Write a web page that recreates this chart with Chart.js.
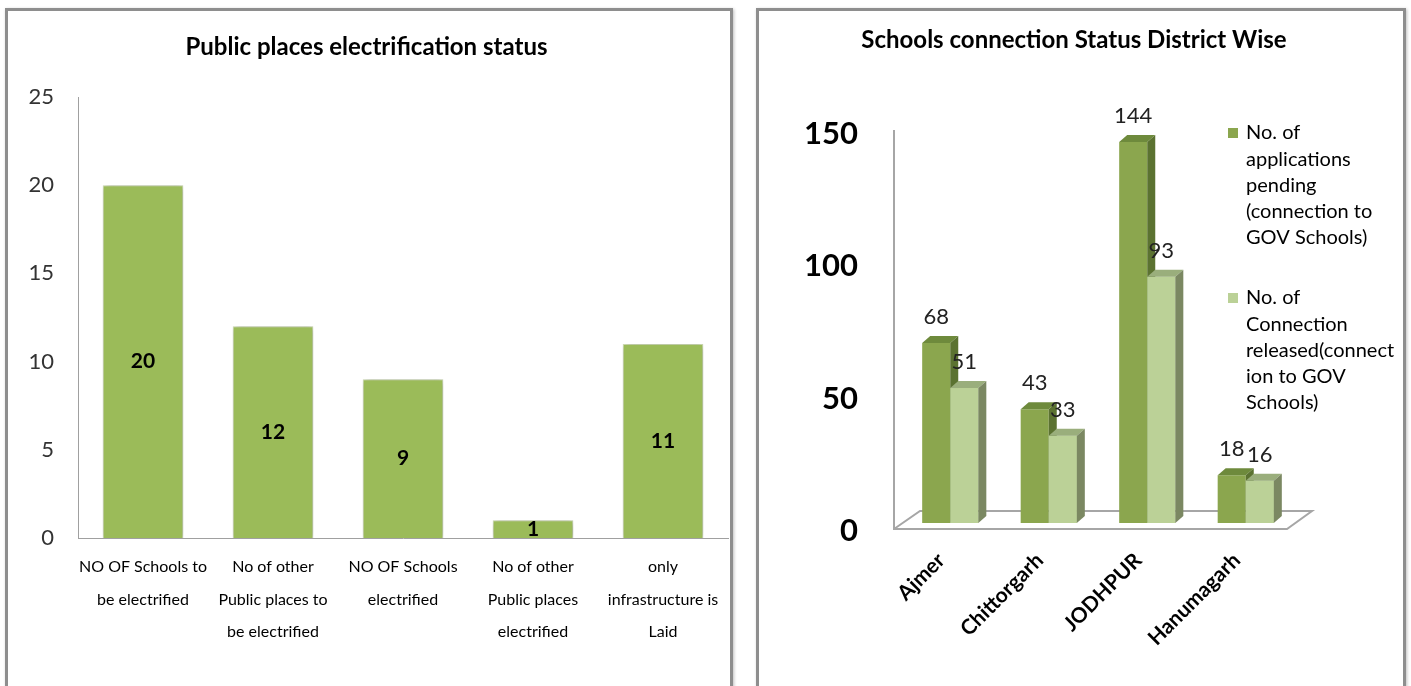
<!DOCTYPE html>
<html>
<head>
<meta charset="utf-8">
<script src="https://cdn.jsdelivr.net/npm/chart.js@4.4.1/dist/chart.umd.min.js"></script>
<style>
  body { margin: 0; background: #fff; width: 1411px; height: 686px; overflow: hidden; position: relative; }
  .panel { position: absolute; top: 8px; height: 700px; border: 3px solid #8e8e8e; box-sizing: border-box; box-shadow: 1px 1px 3px rgba(0,0,0,0.25); }
  #leftPanel { left: 5px; width: 728px; }
  #rightPanel { left: 756px; width: 650px; }
  canvas { position: absolute; }
  #publicChart { left: 5px; top: 9px; }
  #schoolChart { left: 757px; top: 9px; }
</style>
</head>
<body>
<div class="panel" id="leftPanel"></div>
<div class="panel" id="rightPanel"></div>
<canvas id="publicChart" width="733" height="677"></canvas>
<canvas id="schoolChart" width="650" height="677"></canvas>
<script>
// left chart
const publicLabels = [
  ['NO OF Schools to', 'be electrified'],
  ['No of other', 'Public places to', 'be electrified'],
  ['NO OF Schools', 'electrified'],
  ['No of other', 'Public places', 'electrified'],
  ['only', 'infrastructure is', 'Laid']
];
const publicValues = [20, 12, 9, 1, 11];

// right chart
const districts = ['Ajmer', 'Chittorgarh', 'JODHPUR', 'Hanumagarh'];
const pendingValues = [68, 43, 144, 18];
const releasedValues = [51, 33, 93, 16];
const pendingName = ['No. of', 'applications', 'pending', '(connection to', 'GOV Schools)'];
const releasedName = ['No. of', 'Connection', 'released(connect', 'ion to GOV', 'Schools)'];

Chart.defaults.font.family = 'Lato, "Open Sans", sans-serif';
Chart.defaults.color = '#000';

// numbers on the bars
const barValues = {
  id: 'barValues',
  afterDatasetsDraw(chart, args, opts) {
    const ctx = chart.ctx;
    ctx.save();
    ctx.font = opts.font;
    ctx.fillStyle = opts.color;
    ctx.textAlign = 'center';
    ctx.textBaseline = 'middle';
    chart.data.datasets.forEach((ds, i) => {
      chart.getDatasetMeta(i).data.forEach((bar, j) => {
        const y = opts.inside ? (bar.y + bar.base) / 2 : bar.y - opts.offset;
        ctx.fillText(ds.data[j], bar.x, y);
      });
    });
    ctx.restore();
  }
};

// soft shadow like the excel bars
const barShadow = {
  id: 'barShadow',
  beforeDatasetsDraw(chart) {
    const ctx = chart.ctx;
    ctx.save();
    ctx.shadowColor = 'rgba(0,0,0,0.35)';
    ctx.shadowBlur = 7;
    ctx.shadowOffsetX = 1;
    ctx.shadowOffsetY = 1;
  },
  afterDatasetsDraw(chart) {
    chart.ctx.restore();
  }
};

// fake 3d: floor, top and side faces
const bars3d = {
  id: 'bars3d',
  beforeDatasetsDraw(chart) {
    const { ctx, chartArea: a, scales: { y } } = chart;
    const base = y.getPixelForValue(0);
    ctx.save();
    ctx.strokeStyle = '#a6a6a6';
    ctx.lineWidth = 2;
    ctx.beginPath();
    ctx.moveTo(a.left - 7, y.getPixelForValue(y.max) + 4);
    ctx.lineTo(a.left - 7, base + 6);
    ctx.lineTo(a.right - 8, base + 6);
    ctx.lineTo(a.right + 17, base - 12);
    ctx.lineTo(a.left + 19, base - 12);
    ctx.lineTo(a.left - 7, base + 6);
    ctx.stroke();
    ctx.restore();
  },
  afterDatasetsDraw(chart) {
    const ctx = chart.ctx;
    const dx = 8, dy = -7;
    const poly = (pts, color) => {
      ctx.fillStyle = color;
      ctx.beginPath();
      pts.forEach((p, k) => k ? ctx.lineTo(p[0], p[1]) : ctx.moveTo(p[0], p[1]));
      ctx.closePath();
      ctx.fill();
    };
    ctx.save();
    chart.data.labels.forEach((l, j) => {
      chart.data.datasets.forEach((ds, i) => {
        const bar = chart.getDatasetMeta(i).data[j];
        const L = bar.x - bar.width / 2, R = bar.x + bar.width / 2, T = bar.y, B = bar.base;
        if (i > 0) {
          ctx.fillStyle = ds.backgroundColor;
          ctx.fillRect(L, T, R - L, B - T);
        }
        poly([[L, T], [L + dx, T + dy], [R + dx, T + dy], [R, T]], ds.topColor);
        poly([[R, T], [R + dx, T + dy], [R + dx, B + dy], [R, B]], ds.sideColor);
      });
    });
    ctx.restore();
  }
};

// legend with wrapped lines at the right
const sideLegend = {
  id: 'sideLegend',
  afterDraw(chart, args, opts) {
    const ctx = chart.ctx;
    ctx.save();
    ctx.font = opts.font;
    ctx.textBaseline = 'middle';
    ctx.textAlign = 'left';
    let y = opts.top;
    chart.data.datasets.forEach(ds => {
      ctx.fillStyle = ds.backgroundColor;
      ctx.fillRect(opts.left, y - 5, 10, 10);
      ctx.fillStyle = '#000';
      ds.legendLines.forEach((line, k) => ctx.fillText(line, opts.left + 18, y + k * opts.lineHeight));
      y += ds.legendLines.length * opts.lineHeight + opts.gap;
    });
    ctx.restore();
  }
};

new Chart(document.getElementById('publicChart'), {
  type: 'bar',
  data: {
    labels: publicLabels,
    datasets: [{
      data: publicValues,
      backgroundColor: '#9BBB59',
      borderColor: '#d3e0b8',
      borderWidth: 1,
      categoryPercentage: 1,
      barPercentage: 0.62
    }]
  },
  options: {
    responsive: false,
    animation: false,
    layout: { padding: { right: 10 } },
    plugins: {
      legend: { display: false },
      tooltip: { enabled: false },
      title: {
        display: true,
        text: 'Public places electrification status',
        color: '#000',
        font: { size: 24, weight: 'bold' },
        padding: { top: 23.6, bottom: 35.6 }
      },
      barValues: { font: 'bold 21px Lato', color: '#000', inside: true }
    },
    scales: {
      x: {
        grid: { display: false, drawTicks: false },
        border: { color: '#a0a0a0' },
        ticks: { font: { size: 16, lineHeight: 2.03 }, color: '#000', padding: 13, maxRotation: 0, autoSkip: false },
        afterFit(s) { s.height = 148; }
      },
      y: {
        min: 0,
        max: 25,
        grid: { display: false, drawTicks: false },
        border: { color: '#a0a0a0' },
        ticks: { stepSize: 5, font: { size: 22 }, color: '#333', padding: 24 },
        afterFit(s) { s.width = 73; }
      }
    }
  },
  plugins: [barShadow, barValues]
});

new Chart(document.getElementById('schoolChart'), {
  type: 'bar',
  data: {
    labels: districts,
    datasets: [
      {
        label: pendingName.join(' '),
        legendLines: pendingName,
        data: pendingValues,
        backgroundColor: '#8BA64E',
        topColor: '#6E8A3C',
        sideColor: '#5B7231'
      },
      {
        label: releasedName.join(' '),
        legendLines: releasedName,
        data: releasedValues,
        backgroundColor: '#BBD197',
        topColor: '#9AAE7C',
        sideColor: '#7B8862'
      }
    ]
  },
  options: {
    responsive: false,
    animation: false,
    datasets: { bar: { categoryPercentage: 0.57, barPercentage: 1 } },
    layout: { padding: { right: 16 } },
    plugins: {
      legend: { display: false },
      tooltip: { enabled: false },
      title: {
        display: true,
        text: 'Schools connection Status District Wise',
        color: '#000',
        font: { size: 24, weight: 'bold' },
        padding: { top: 16.6, bottom: 71.6 }
      },
      barValues: { font: '22px Lato', color: '#222', offset: 26 },
      sideLegend: { font: '20px Lato', left: 471, top: 124, lineHeight: 26.2, gap: 34 }
    },
    scales: {
      x: {
        grid: { display: false, drawTicks: false },
        border: { display: false },
        ticks: { font: { size: 21, weight: 'bold' }, color: '#000', minRotation: 45, maxRotation: 45, padding: 25, labelOffset: -9, autoSkip: false },
        afterFit(s) { s.height = 163; }
      },
      y: {
        min: 0,
        max: 150,
        grid: { display: false, drawTicks: false },
        border: { display: false },
        ticks: { stepSize: 50, font: { size: 31, weight: 'bold' }, color: '#000', padding: 43, labelOffset: 8 },
        afterFit(s) { s.width = 144; }
      },
      // empty strip on the right that leaves room for the legend
      legendRoom: {
        axis: 'y',
        position: 'right',
        grid: { display: false, drawTicks: false },
        border: { display: false },
        ticks: { display: false },
        afterFit(s) { s.width = 96; }
      }
    }
  },
  plugins: [bars3d, barValues, sideLegend]
});
</script>
</body>
</html>
